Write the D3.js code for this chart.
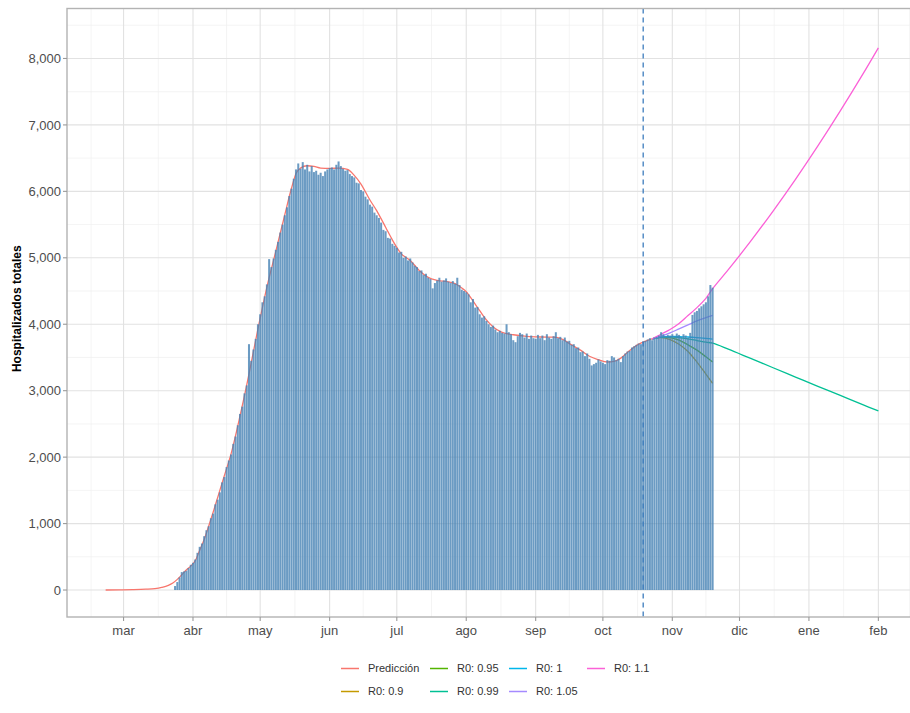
<!DOCTYPE html>
<html>
<head>
<meta charset="utf-8">
<script src="https://cdn.jsdelivr.net/npm/d3@7"></script>
<style>
  html, body { margin: 0; padding: 0; background: #ffffff; }
  svg { display: block; font-family: "Liberation Sans", Arial, Helvetica, sans-serif; }
</style>
</head>
<body>
<svg id="chart" width="910" height="713"></svg>
<script>
// ---------------- DATA ----------------
const monthLabels = ["mar","abr","may","jun","jul","ago","sep","oct","nov","dic","ene","feb"];
const yTickValues = [0,1000,2000,3000,4000,5000,6000,7000,8000];

// daily hospitalised counts, first bar on 2020-03-24
const barStartDate = "2020-03-24";
const hospitalized = [
  // Mar 24-31
  60,120,190,270,280,290,330,380,
  // Apr
  410,460,560,650,700,810,900,960,1080,1150,1290,1360,1470,1620,1700,1850,1950,2040,2200,2310,
  2480,2650,2760,2960,3080,3700,3450,3620,3780,4000,
  // May
  4150,4330,4420,4600,4980,4860,4990,5120,5240,5380,5500,5640,5760,5930,6040,6190,6330,6420,6340,6440,
  6330,6400,6300,6380,6290,6310,6250,6280,6230,6300,6330,
  // Jun
  6350,6360,6330,6400,6450,6380,6340,6310,6320,6260,6230,6210,6130,6120,6020,6000,5920,5880,5800,5770,
  5680,5640,5600,5530,5420,5400,5300,5290,5210,5180,
  // Jul
  5150,5080,5090,5000,5020,4960,4990,4930,4880,4860,4800,4810,4740,4760,4700,4680,4540,4620,4660,4700,
  4640,4660,4690,4640,4620,4650,4610,4700,4590,4520,4500,
  // Aug
  4480,4450,4330,4380,4250,4260,4150,4100,4120,4050,4000,3960,3980,3920,3880,3900,3870,3860,4000,3880,
  3850,3760,3730,3820,3870,3850,3800,3860,3780,3830,3790,
  // Sep
  3780,3840,3790,3830,3760,3850,3800,3780,3820,3880,3790,3810,3760,3800,3740,3750,3690,3700,3640,3650,
  3580,3590,3520,3560,3480,3380,3400,3420,3470,3440,
  // Oct
  3420,3400,3460,3450,3520,3500,3460,3480,3430,3520,3560,3590,3600,3650,3670,3690,3710,3700,3740,3750,
  3770,3790,3760,3800,3810,3830,3880,3850,3820,3840,3830,
  // Nov 1-19
  3850,3820,3860,3840,3810,3850,3830,3800,3870,4140,4180,4200,4240,4270,4300,4330,4420,4590,4550
];

// fitted curve ("Predicción"): day offsets counted from 2020-03-01
const predOrigin = "2020-03-01";
const predDays = [-8,-2,4,10,14,17,20,22,24,26,28,30,32,34,36,38,40,42,45,48,52,56,60,64,68,72,75,77,79,82,85,88,92,96,100,
  103,106,110,113,117,120,124,128,132,136,140,145,148,151,153,156,159,162,165,169,174,180,186,192,196,200,204,208,212,
  216,219,222,226,230,234,236];
const predValues = [0,2,5,12,22,40,70,105,160,230,300,360,440,600,760,960,1170,1390,1720,2050,2620,3250,3930,4560,5100,5650,6050,6270,6350,6385,6375,6350,6345,6350,6330,
  6240,6110,5870,5710,5460,5270,5060,4960,4810,4705,4660,4638,4610,4545,4490,4350,4205,4065,3960,3879,3842,3818,3808,3805,3772,3690,3610,3518,3466,
  3432,3440,3490,3605,3700,3758,3780];

// scenario projections
const scenarioDates = ["2020-10-23","2020-10-27","2020-10-31","2020-11-04","2020-11-08","2020-11-12","2020-11-16","2020-11-19"];
const longDates = ["2020-11-26","2020-12-06","2020-12-16","2020-12-26","2021-01-05","2021-01-15","2021-01-25","2021-02-01"];
const r0_090 = [3780,3800,3770,3700,3590,3430,3250,3110];
const r0_095 = [3780,3805,3800,3760,3690,3610,3510,3430];
const r0_099 = [3780,3805,3810,3800,3780,3755,3730,3715, 3625,3485,3345,3205,3065,2930,2790,2695];
const r0_100 = [3780,3808,3815,3815,3808,3798,3786,3775];
const r0_105 = [3780,3820,3870,3930,3990,4050,4100,4135];
const r0_110 = [3780,3850,3920,4010,4130,4250,4390,4535, 4821,5250,5704,6181,6683,7210,7760,8160];

const seriesNames = ["Predicción","R0: 0.9","R0: 0.95","R0: 0.99","R0: 1","R0: 1.05","R0: 1.1"];
const seriesColors = ["#F8766D","#C49A00","#53B400","#00C094","#00B6EB","#A58AFF","#FB61D7"];
const vlineDate = "2020-10-19";

// ---------------- CHART ----------------
const parse = d3.timeParse("%Y-%m-%d");
const svg = d3.select("#chart");
const panel = {left: 67, right: 917, top: 8.5, bottom: 617};

const predData = predDays.map((d,i) => ({date: d3.timeDay.offset(parse(predOrigin), d), value: predValues[i]}));
const allDates = scenarioDates.concat(longDates).map(parse);
function scen(vals){ return vals.map((v,i)=>({date: allDates[i], value: v})); }
const series = [
  {name: seriesNames[0], data: predData},
  {name: seriesNames[1], data: scen(r0_090)},
  {name: seriesNames[2], data: scen(r0_095)},
  {name: seriesNames[3], data: scen(r0_099)},
  {name: seriesNames[4], data: scen(r0_100)},
  {name: seriesNames[5], data: scen(r0_105)},
  {name: seriesNames[6], data: scen(r0_110)}
];
const bars = hospitalized.map((v,i)=>({date: d3.timeDay.offset(parse(barStartDate), i), value: v}));

const xMin = predData[0].date, xMax = allDates[allDates.length-1];
const pad = 0.05*(xMax - xMin);
const x = d3.scaleTime()
  .domain([new Date(+xMin - pad), new Date(+xMax + pad)])
  .range([panel.left, panel.right]);
const y = d3.scaleLinear().domain([-406, 8752]).range([panel.bottom, panel.top]);

const color = d3.scaleOrdinal().domain(seriesNames).range(seriesColors);

svg.append("defs").append("clipPath").attr("id","clip")
  .append("rect").attr("x",panel.left).attr("y",panel.top)
  .attr("width",panel.right-panel.left).attr("height",panel.bottom-panel.top);

const g = svg.append("g").attr("clip-path","url(#clip)");

// grid
const monthTicks = d3.timeMonth.range(parse("2020-03-01"), parse("2021-03-01"));
const monthAll = d3.timeMonth.range(parse("2020-02-01"), parse("2021-04-01"));
const xMinor = d3.pairs(monthAll).map(([a,b]) => new Date((+a + +b)/2));
const yMinor = d3.range(500, 9000, 1000);

g.selectAll(".xminor").data(xMinor).join("line")
  .attr("x1",d=>x(d)).attr("x2",d=>x(d)).attr("y1",panel.top).attr("y2",panel.bottom)
  .attr("stroke","#efefef").attr("stroke-width",0.7);
g.selectAll(".yminor").data(yMinor).join("line")
  .attr("x1",panel.left).attr("x2",panel.right).attr("y1",d=>y(d)).attr("y2",d=>y(d))
  .attr("stroke","#efefef").attr("stroke-width",0.7);
g.selectAll(".xmajor").data(monthTicks).join("line")
  .attr("x1",d=>x(d)).attr("x2",d=>x(d)).attr("y1",panel.top).attr("y2",panel.bottom)
  .attr("stroke","#e2e2e2").attr("stroke-width",1.1);
g.selectAll(".ymajor").data(yTickValues).join("line")
  .attr("x1",panel.left).attr("x2",panel.right).attr("y1",d=>y(d)).attr("y2",d=>y(d))
  .attr("stroke","#e2e2e2").attr("stroke-width",1.1);

// lines
const predLine = d3.line().x(d=>x(d.date)).y(d=>y(d.value)).curve(d3.curveMonotoneX);
const scenLine = d3.line().x(d=>x(d.date)).y(d=>y(d.value)).curve(d3.curveCatmullRom.alpha(0.5));
g.selectAll(".series").data(series).join("path")
  .attr("d", (d,i)=> i===0 ? predLine(d.data) : scenLine(d.data))
  .attr("fill","none")
  .attr("stroke", d=>color(d.name))
  .attr("stroke-width",1.3);

// bars (translucent, over the lines)
const dayW = x(parse("2020-06-02")) - x(parse("2020-06-01"));
const bw = dayW*0.9;
g.selectAll(".bar").data(bars).join("rect")
  .attr("x", d=>x(d.date)-bw/2)
  .attr("width", bw)
  .attr("y", d=>y(d.value))
  .attr("height", d=>y(0)-y(d.value))
  .attr("fill","#4682B4")
  .attr("fill-opacity",0.8);

// dashed vertical line
g.append("line")
  .attr("x1",x(parse(vlineDate))).attr("x2",x(parse(vlineDate)))
  .attr("y1",panel.top).attr("y2",panel.bottom)
  .attr("stroke","#3b7bbd").attr("stroke-width",1.3).attr("stroke-dasharray","5,4");

// panel border
svg.append("rect").attr("x",panel.left).attr("y",panel.top)
  .attr("width",panel.right-panel.left).attr("height",panel.bottom-panel.top)
  .attr("fill","none").attr("stroke","#b3b3b3").attr("stroke-width",1.4);

// y axis
const fmt = d3.format(",");
const ya = svg.append("g");
ya.selectAll("line").data(yTickValues).join("line")
  .attr("x1",panel.left-4).attr("x2",panel.left).attr("y1",d=>y(d)).attr("y2",d=>y(d))
  .attr("stroke","#9a9a9a").attr("stroke-width",1.1);
ya.selectAll("text").data(yTickValues).join("text")
  .attr("x",panel.left-6).attr("y",d=>y(d)).attr("dy","0.36em")
  .attr("text-anchor","end").attr("font-size",13).attr("fill","#4d4d4d")
  .text(d=>fmt(d));

// x axis
const xa = svg.append("g");
xa.selectAll("line").data(monthTicks).join("line")
  .attr("x1",d=>x(d)).attr("x2",d=>x(d)).attr("y1",panel.bottom).attr("y2",panel.bottom+4)
  .attr("stroke","#9a9a9a").attr("stroke-width",1.1);
xa.selectAll("text").data(monthTicks).join("text")
  .attr("x",d=>x(d)).attr("y",panel.bottom+17.5)
  .attr("text-anchor","middle").attr("font-size",13).attr("fill","#4d4d4d")
  .text((d,i)=>monthLabels[i]);

// y title
svg.append("text")
  .attr("transform",`translate(21,${(panel.top+panel.bottom)/2 - 4}) rotate(-90)`)
  .attr("text-anchor","middle").attr("font-size",12).attr("font-weight","bold").attr("fill","#000")
  .text("Hospitalizados totales");

// legend: 4 columns, 2 rows, filled by column
const colX = [341, 430, 509, 587];
const rowY = [668.5, 691.5];
const lg = svg.append("g");
seriesNames.forEach((name,i)=>{
  const c = Math.floor(i/2), r = i%2;
  const gx = colX[c], gy = rowY[r];
  lg.append("line").attr("x1",gx).attr("x2",gx+18).attr("y1",gy).attr("y2",gy)
    .attr("stroke",color(name)).attr("stroke-width",1.5);
  lg.append("text").attr("x",gx+27).attr("y",gy).attr("dy","0.36em")
    .attr("font-size",11).attr("fill","#333").text(name);
});
</script>
</body>
</html>
